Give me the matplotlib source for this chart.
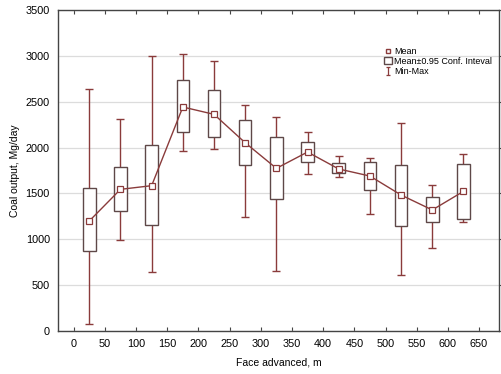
import numpy as np
import matplotlib
matplotlib.use("Agg")
import matplotlib.pyplot as plt
from matplotlib.lines import Line2D
from matplotlib.patches import Rectangle
from matplotlib.path import Path

plt.rcParams['font.family'] = ['Liberation Sans', 'DejaVu Sans']

# coal output per face-advance interval (Mg/day)
face_pos = [25, 75, 125, 175, 225, 275, 325, 375, 425, 475, 525, 575, 625]
mean_out = [1200, 1545, 1585, 2443, 2363, 2053, 1774, 1952, 1767, 1690, 1483, 1320, 1523]
ci_low = [869, 1309, 1153, 2170, 2116, 1814, 1439, 1840, 1723, 1541, 1145, 1185, 1218]
ci_high = [1563, 1788, 2032, 2737, 2625, 2301, 2119, 2058, 1832, 1840, 1814, 1465, 1821]
min_out = [73, 992, 640, 1963, 1985, 1247, 651, 1716, 1679, 1276, 611, 909, 1185]
max_out = [2636, 2315, 2999, 3021, 2941, 2468, 2330, 2174, 1905, 1887, 2272, 1589, 1930]

red = '#8a3b3b'
box_edge = '#5e4848'

fig = plt.figure(figsize=(5.01, 3.74), dpi=100)
ax = fig.add_axes([0.116, 0.115, 0.880, 0.858])

x = np.array(face_pos)
m = np.array(mean_out)
yerr = [m - np.array(min_out), np.array(max_out) - m]

# min-max whiskers
ax.errorbar(x, m, yerr=yerr, fmt='none', ecolor=red, elinewidth=1.0,
            capsize=3, capthick=1.0, zorder=2)

# confidence interval boxes
ax.bar(x, np.array(ci_high) - np.array(ci_low), bottom=ci_low, width=20,
       facecolor='white', edgecolor=box_edge, linewidth=1.0, zorder=3)

# means
ax.plot(x, m, color=red, linewidth=1.0, marker='s', markersize=4,
        markerfacecolor='white', markeredgecolor=red, markeredgewidth=0.9,
        zorder=4)

ax.set_xlim(-25, 682)
ax.set_ylim(0, 3500)
ax.set_xticks(np.arange(0, 651, 50))
ax.set_yticks(np.arange(0, 3501, 500))
ax.yaxis.grid(True, color='#dcdcdc', linewidth=0.9)
ax.set_axisbelow(True)

ax.tick_params(axis='x', direction='in', top=True, length=3, labelsize=7.8,
               color='#444444', pad=6)
ax.tick_params(axis='y', direction='out', left=False, right=True, length=2,
               labelsize=7.8, color='#444444', pad=4)
for sp in ax.spines.values():
    sp.set_color('#444444')
    sp.set_linewidth(1.0)

ax.set_xlabel('Face advanced, m', fontsize=7.5, labelpad=6)
ax.set_ylabel('Coal output, Mg/day', fontsize=7.5, labelpad=4)

# legend with an I-shaped marker for the min-max range
ibar = Path([(-0.5, 1), (0.5, 1), (0, 1), (0, -1), (-0.5, -1), (0.5, -1)],
            [Path.MOVETO, Path.LINETO, Path.MOVETO, Path.LINETO,
             Path.MOVETO, Path.LINETO])
handles = [
    Line2D([], [], linestyle='none', marker='s', markersize=3.5,
           markerfacecolor='white', markeredgecolor=red),
    Rectangle((0, 0), 1, 1, facecolor='white', edgecolor=box_edge),
    Line2D([], [], linestyle='none', marker=ibar, markersize=5.5,
           markeredgecolor=red, markeredgewidth=0.9),
]
ax.legend(handles, ['Mean', 'Mean\u00b10.95 Conf. Inteval', 'Min-Max'],
          loc='upper left', bbox_to_anchor=(0.74, 0.885), frameon=False,
          fontsize=6.5, handlelength=0.8, handleheight=0.8, handletextpad=0.25,
          labelspacing=0.1, borderpad=0, borderaxespad=0)

fig.savefig('out.png', dpi=100)
